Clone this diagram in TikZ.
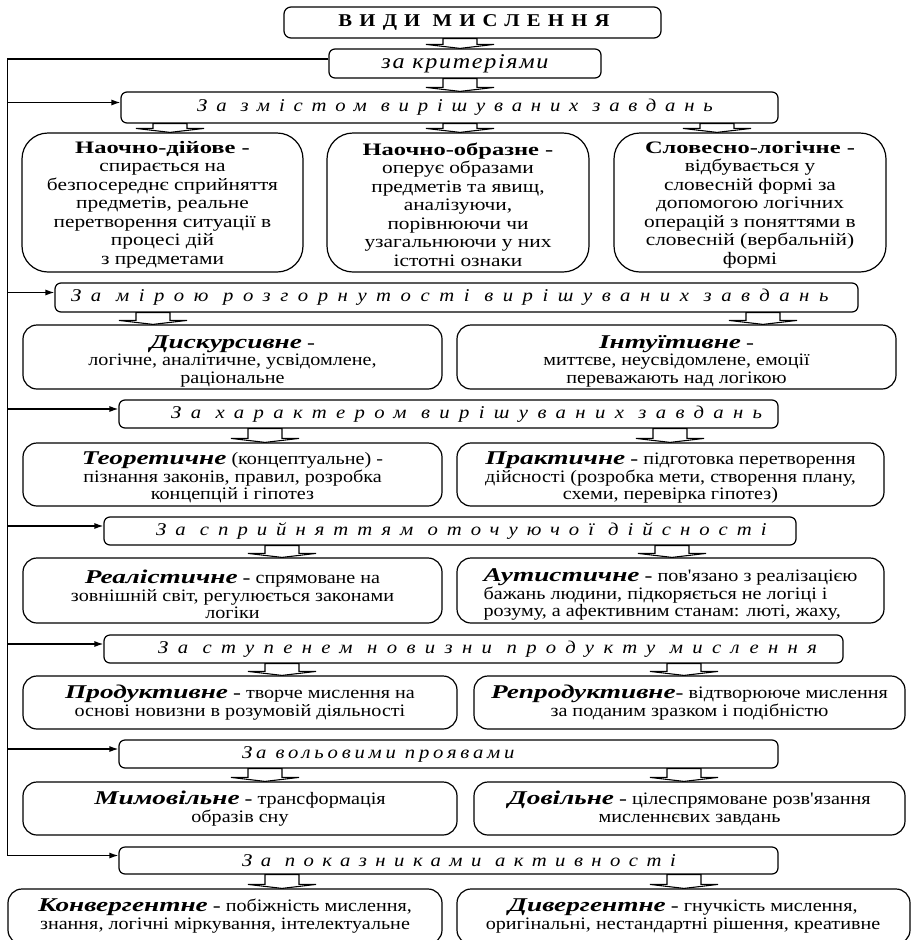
\documentclass[tikz,border=0pt]{standalone}
\usepackage{fontspec}
\setmainfont{Liberation Serif}[FakeStretch=1.15]
\newfontfamily\bigfam{Liberation Serif}[FakeStretch=1.22]
\newfontfamily\ttlfam{Liberation Serif}[FakeStretch=1.4]
\usetikzlibrary{arrows.meta,calc}
\newcommand{\hdr}[2]{{\itshape\addfontfeatures{LetterSpace=#1}#2}}
\newcommand{\bt}[1]{{\ttlfam\fontsize{19.5}{16}\selectfont\bfseries\itshape #1}}
\newcommand{\dsh}{{\ttlfam\fontsize{17}{16}\selectfont\bfseries -}}
\newcommand{\ut}[1]{{\ttlfam\fontsize{17.5}{18}\selectfont\bfseries #1}}
\newcommand{\apos}{{\addfontfeatures{Ligatures=TeXOff}'}}
\newcommand{\bx}[6]{\node[box, rounded corners=#6, minimum width={#4-#2}, minimum height={#5-#3}] (#1) at ({(#2+#4)/2},{(#3+#5)/2}) {};}
\newcommand{\barr}[3]{\draw[barrow] let \p1=(#1.south), \p2=(#2.north) in
  (#3pt-17pt,\y1) -- (#3pt-17pt,\y2+4pt) -- (#3pt-34pt,\y2+4pt) -- (#3pt,\y2) -- (#3pt+34pt,\y2+4pt) -- (#3pt+17pt,\y2+4pt) -- (#3pt+17pt,\y1) -- cycle;}
\begin{document}
\begin{tikzpicture}[x=1pt,y=-1pt]
\tikzset{
  box/.style={draw, line width=1.2pt, inner sep=0pt},
  txt/.style={align=center, inner sep=0pt, font={\fontsize{17.5}{17.5}\selectfont\lineskiplimit=-50pt}},
  btxt/.style={align=center, inner sep=0pt, font={\bigfam\fontsize{17.5}{18.5}\selectfont\lineskiplimit=-50pt}},
  htxt/.style={inner sep=0pt, font=\fontsize{18}{20}\selectfont},
  barrow/.style={draw, line width=1.1pt, line join=miter},
  link/.style={line width=1.2pt},
  tip/.style={line width=1.2pt, -{Latex[length=9pt,width=6pt]}}
}
\clip (0,0) rectangle (919,940);
\fill[white] (0,0) rectangle (919,940);
% boxes
\bx{title}{284}{7}{661}{38}{7}
\bx{krit}{329}{49}{601}{78}{6}
\bx{h1}{121}{92}{778}{123}{6}
\bx{b1}{22}{133}{303}{272}{26}
\bx{b2}{327}{133}{589}{272}{26}
\bx{b3}{614}{133}{886}{272}{26}
\bx{h2}{55}{283}{858}{312}{6}
\bx{b4}{23}{325}{442}{389}{14}
\bx{b5}{457}{325}{896}{389}{14}
\bx{h3}{119}{400}{778}{428}{6}
\bx{b6}{23}{443}{442}{506}{14}
\bx{b7}{457}{443}{884}{506}{14}
\bx{h4}{104}{517}{796}{545}{6}
\bx{b8}{23}{558}{442}{623}{14}
\bx{b9}{457}{558}{884}{623}{14}
\bx{h5}{104}{635}{843}{663}{6}
\bx{b10}{23}{676}{457}{729}{14}
\bx{b11}{474}{676}{905}{729}{14}
\bx{h6}{119}{740}{778}{768}{6}
\bx{b12}{23}{782}{457}{835}{14}
\bx{b13}{474}{782}{905}{835}{14}
\bx{h7}{119}{847}{778}{874}{6}
\bx{b14}{8}{889}{442}{944}{14}
\bx{b15}{457}{889}{910}{944}{14}
% block arrows
\barr{title}{krit}{460}
\barr{krit}{h1}{460}
\barr{h1}{b1}{170}
\barr{h1}{b2}{460}
\barr{h1}{b3}{717}
\barr{h2}{b4}{153}
\barr{h2}{b5}{763}
\barr{h3}{b6}{265}
\barr{h3}{b7}{670}
\barr{h4}{b8}{282}
\barr{h4}{b9}{672}
\barr{h5}{b10}{282}
\barr{h5}{b11}{684}
\barr{h6}{b12}{265}
\barr{h6}{b13}{684}
\barr{h7}{b14}{282}
\barr{h7}{b15}{684}
% left connector
\coordinate (lx) at (7.5,0);
\draw[link] ([yshift=4.5pt]krit.west) -- ([yshift=4.5pt]krit.west -| lx) -- ([yshift=5pt]h7.west -| lx);
\foreach \h in {h1,h2,h3,h4,h5,h6,h7}
  \draw[tip] ([yshift=5pt]\h.west -| lx) -- ([yshift=5pt]\h.west);
% texts
\node[inner sep=0pt, font=\fontsize{18}{20}\selectfont\bfseries] (titlet) at (474,22.5) {\addfontfeatures{LetterSpace=40}ВИДИ МИСЛЕННЯ};
\node[inner sep=0pt, font=\fontsize{21}{22}\selectfont] (kritt) at (krit) {\itshape\addfontfeatures{LetterSpace=8}за критеріями};
\node[htxt, anchor=west] (h1t) at (197,107.5) {\hdr{49}{За змістом вирішуваних завдань}};
\node[htxt, anchor=west] (h2t) at (71,297.5) {\hdr{53}{За мірою розгорнутості вирішуваних завдань}};
\node[htxt, anchor=west] (h3t) at (171,414) {\hdr{52}{За характером вирішуваних завдань}};
\node[htxt, anchor=west] (h4t) at (156,531) {\hdr{50}{За сприйняттям оточуючої дійсності}};
\node[htxt, anchor=west] (h5t) at (158,649) {\hdr{52}{За ступенем новизни продукту мислення}};
\node[htxt, anchor=west] (h6t) at (242,754) {\hdr{21}{За вольовими проявами}};
\node[htxt, anchor=west] (h7t) at (242,860.5) {\hdr{47}{За показниками активності}};

\node[btxt] (b1t) at ([yshift=-2pt]b1.center) {\ut{Наочно-дійове -}\\спирається на\\безпосереднє сприйняття\\предметів, реальне\\перетворення ситуації в\\процесі дій\\з предметами};
\node[btxt] (b2t) at ([yshift=-2pt]b2.center) {\ut{Наочно-образне -}\\оперує образами\\предметів та явищ,\\аналізуючи,\\порівнюючи чи\\узагальнюючи у них\\істотні ознаки};
\node[btxt] (b3t) at ([yshift=-2pt]b3.center) {\ut{Словесно-логічне -}\\відбувається у\\словесній формі за\\допомогою логічних\\операцій з поняттями в\\словесній (вербальній)\\формі};
\node[txt] (b4t) at ([yshift=-4pt]b4.center) {\bt{Дискурсивне} \dsh\\логічне, аналітичне, усвідомлене,\\раціональне};
\node[txt] (b5t) at ([yshift=-4pt]b5.center) {\bt{Інтуїтивне} \dsh\\миттєве, неусвідомлене, емоції\\переважають над логікою};
\node[txt] (b6t) at ([yshift=-3pt]b6.center) {\bt{Теоретичне}  (концептуальне) -\\пізнання законів, правил, розробка\\концепцій і гіпотез};
\node[txt] (b7t) at ([yshift=-3pt]b7.center) {\bt{Практичне} \dsh{} підготовка перетворення\\дійсності (розробка мети, створення плану,\\схеми, перевірка гіпотез)};
\node[txt] (b8t) at ([yshift=-4pt]b8.center) {\bt{Реалістичне} \dsh{} спрямоване  на\\зовнішній світ, регулюється законами\\логіки};
\node[txt, align=left] (b9t) at ([yshift=-4pt]b9.center) {\bt{Аутистичне} \dsh{} пов\apos язано з реалізацією\\бажань людини, підкоряється не логіці і\\розуму, а афективним станам: люті, жаху,};
\node[txt] (b10t) at (b10) {\bt{Продуктивне} \dsh{} творче мислення на\\основі новизни в розумовій діяльності};
\node[txt] (b11t) at (b11) {\bt{Репродуктивне}\dsh{} відтворююче мислення\\за поданим зразком і подібністю};
\node[txt] (b12t) at (b12) {\bt{Мимовільне} \dsh{} трансформація\\образів сну};
\node[txt] (b13t) at (b13) {\bt{Довільне} \dsh{} цілеспрямоване  розв\apos язання\\мисленнєвих завдань};
\node[txt] (b14t) at (225,916) {\bt{Конвергентне} \dsh{} побіжність мислення,\\знання, логічні міркування, інтелектуальне};
\node[txt] (b15t) at (683,916) {\bt{Дивергентне} \dsh{} гнучкість мислення,\\оригінальні, нестандартні рішення, креативне};
\end{tikzpicture}
\end{document}
